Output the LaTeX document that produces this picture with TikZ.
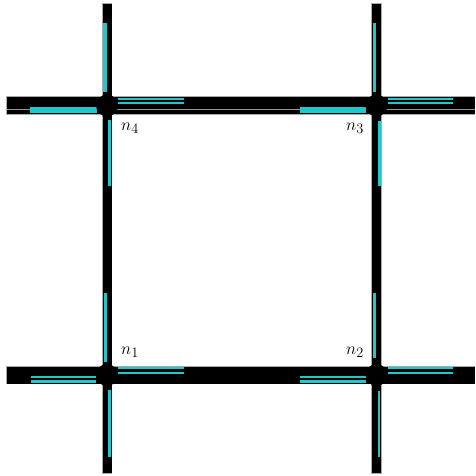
\documentclass[tikz,border=0pt]{standalone}
\usetikzlibrary{backgrounds}
\definecolor{lane}{RGB}{32,200,204}
\definecolor{edgegray}{RGB}{170,170,170}
\definecolor{divgray}{RGB}{150,150,150}
\begin{document}
\begin{tikzpicture}[x=1pt,y=-1pt,
  hroadout/.style={line width=18.6pt, draw=edgegray},
  hroad/.style={line width=17pt, draw=black},
  vroadout/.style={line width=10.6pt, draw=edgegray},
  vroad/.style={line width=9pt, draw=black},
  divider/.style={line width=1.2pt, draw=divgray},
  dot/.style={circle, fill=black, minimum size=22pt, inner sep=0pt, draw=none},
  lbl/.style={font=\fontsize{19}{22}\selectfont, inner sep=0pt}]
\useasboundingbox (0,0) rectangle (475,476);
% intersections
\node[dot] (n1) at (107,375) {};
\node[dot] (n2) at (376.5,375) {};
\node[dot] (n3) at (376.5,105.5) {};
\node[dot] (n4) at (107,105.5) {};
% road ends
\coordinate (tl) at (7,105.5);
\coordinate (tr) at (475,105.5);
\coordinate (bl) at (7,375);
\coordinate (br) at (475,375);
\coordinate (lt) at (107,4);
\coordinate (lb) at (107,473);
\coordinate (rt) at (376.5,4);
\coordinate (rb) at (376.5,473);
\coordinate (dl) at (7,109.5);
\coordinate (dr) at (475,109.5);
\begin{scope}[on background layer]
  \draw[hroadout, shorten <=-0.8pt] (tl) -- (n4.center) -- (n3.center) -- (tr);
  \draw[hroadout, shorten <=-0.8pt] (bl) -- (n1.center) -- (n2.center) -- (br);
  \draw[vroadout, shorten <=-0.8pt, shorten >=-0.8pt] (lt) -- (n4.center) -- (n1.center) -- (lb);
  \draw[vroadout, shorten <=-0.8pt, shorten >=-0.8pt] (rt) -- (n3.center) -- (n2.center) -- (rb);
  \draw[hroad] (tl) -- (n4.center) -- (n3.center) -- (tr);
  \draw[hroad] (bl) -- (n1.center) -- (n2.center) -- (br);
  \draw[vroad] (lt) -- (n4.center) -- (n1.center) -- (lb);
  \draw[vroad] (rt) -- (n3.center) -- (n2.center) -- (rb);
  \draw[divider] (dl) -- (dr);
  % top road lanes
  \fill[lane] (30,106.8) rectangle (97,112.8);
  \fill[lane] (118,97.6) rectangle (184,100);
  \fill[lane] (118,102.3) rectangle (184,104.5);
  \fill[lane] (300,106.8) rectangle (366,112.8);
  \fill[lane] (388,97.6) rectangle (453,100);
  \fill[lane] (388,102.3) rectangle (453,104.5);
  % bottom road lanes
  \fill[lane] (31,375.8) rectangle (96,378.3);
  \fill[lane] (31,380.1) rectangle (96,382.6);
  \fill[lane] (118,366.8) rectangle (184,369.3);
  \fill[lane] (118,371.8) rectangle (184,374.2);
  \fill[lane] (300,375.8) rectangle (366,378.3);
  \fill[lane] (300,380.1) rectangle (366,382.6);
  \fill[lane] (388,366.8) rectangle (453,369.3);
  \fill[lane] (388,371.8) rectangle (453,374.2);
  % left vertical lanes
  \fill[lane] (103.2,23) rectangle (106.5,92);
  \fill[lane] (108,120) rectangle (110.8,186);
  \fill[lane] (104,293) rectangle (106.5,362);
  \fill[lane] (107.5,390) rectangle (110.5,457);
  % right vertical lanes
  \fill[lane] (372.7,23) rectangle (376,92);
  \fill[lane] (378,121) rectangle (380.6,186);
  \fill[lane] (372.7,293) rectangle (376,358);
  \fill[lane] (377.7,391) rectangle (380.3,457);
\end{scope}
% labels
\node[lbl] (l1) at (130,352) {$n_1$};
\node[lbl] (l2) at (355,352) {$n_2$};
\node[lbl] (l3) at (355,128) {$n_3$};
\node[lbl] (l4) at (130,128) {$n_4$};
\end{tikzpicture}
\end{document}
